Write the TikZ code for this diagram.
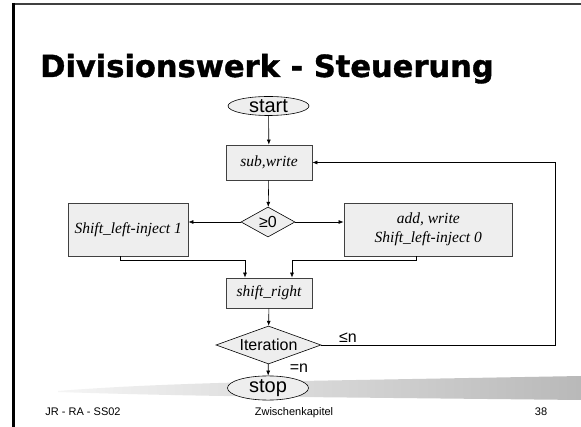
\documentclass[tikz,border=0pt]{standalone}
\usepackage{fontspec}
\setmainfont{Liberation Sans}
\newfontfamily\boxfont{Liberation Serif}
\newfontfamily\titlefont[BoldFeatures={FakeBold=1.2}]{DejaVu Sans}
\usetikzlibrary{shapes.geometric, arrows.meta}

\definecolor{boxgray}{RGB}{238,238,238}
\definecolor{framegray}{RGB}{64,64,64}

\begin{document}
\begin{tikzpicture}[x=1pt, y=-1pt, >={Latex[length=5pt,width=4pt]},
    stepbox/.style={draw=framegray, fill=boxgray, line width=0.8pt, inner sep=0pt,
        align=center, font=\boxfont\itshape\fontsize{15.5}{19}\selectfont},
    term/.style={ellipse, draw=black, fill=boxgray, line width=0.6pt, inner sep=0pt,
        minimum width=81pt, font=\fontsize{20}{22}\selectfont},
    test/.style={diamond, draw=black, fill=boxgray, line width=0.6pt, inner sep=0pt,
        font=\fontsize{16}{18}\selectfont},
    flow/.style={->, line width=0.6pt},
    note/.style={font=\fontsize{16}{18}\selectfont},
    foot/.style={anchor=base, font=\fontsize{11}{13}\selectfont}]
    \useasboundingbox (0,0) rectangle (581,427);
    \fill[white] (0,0) rectangle (581,427);
    % Frame
    \draw[line width=2pt, framegray] (12,4) -- (581,4);
    \draw[line width=3pt] (13.5,3) -- (13.5,427);
    % Title
    \node[anchor=base west, inner sep=0pt, font=\titlefont\bfseries\fontsize{30.5}{34}\selectfont]
        (title) at (40,77) {Divisionswerk - Steuerung};
    % Brush stroke
    \shade[left color=gray!8, right color=gray!55] (58,391) .. controls (120,386) and (200,383) .. (300,381)
        -- (581,376) -- (581,400) -- (300,397) .. controls (200,396) and (120,394) .. (58,392) -- cycle;
    % Steps
    \node[term, minimum height=19pt] (start) at (268.5,106) {start};
    \node[stepbox, minimum width=86pt, minimum height=35pt] (sub) at (269,162.5) {sub,write};
    \node[test, aspect=1.8, minimum width=54pt, minimum height=30pt] (sign) at (268,222) {≥0};
    \node[stepbox, minimum width=119.5pt, minimum height=53pt] (inj1) at (128.25,229.5) {Shift\_left-inject 1};
    \node[stepbox, minimum width=168.7pt, minimum height=53pt] (inj0) at (428.3,229.5) {add, write\\Shift\_left-inject 0};
    \node[stepbox, minimum width=86pt, minimum height=30pt] (shr) at (269,293) {shift\_right};
    \node[test, aspect=2.76, minimum width=105pt, minimum height=38pt] (iter) at (268.5,345) {Iteration};
    \node[term, minimum height=23pt] (stop) at (268,388) {stop};
    % Connections
    \draw[flow] (start) -- (sub);
    \draw[flow] (sub) -- (sign);
    \draw[flow] (sign) -- (sign -| inj1.east);
    \draw[flow] (sign) -- (sign -| inj0.west);
    \draw[flow] ([xshift=-8pt]inj1.south) -- ++(0,4) -| ([xshift=-24pt]shr.north);
    \draw[flow] ([xshift=-12pt]inj0.south) -- ++(0,4) -| ([xshift=23pt]shr.north);
    \draw[flow] (shr) -- (iter);
    \coordinate (back) at (555,345);
    \draw[flow] (iter.east) -- (back) |- (sub.east);
    \draw[flow] (iter) -- (stop);
    % Labels
    \node[note] (le) at (348,338) {≤n};
    \node[note] (eq) at (299,368) {=n};
    % Footer
    \node[foot] (author) at (83,415) {JR - RA - SS02};
    \node[foot] (chapter) at (294,415) {Zwischenkapitel};
    \node[foot] (page) at (541,415) {38};
\end{tikzpicture}
\end{document}
